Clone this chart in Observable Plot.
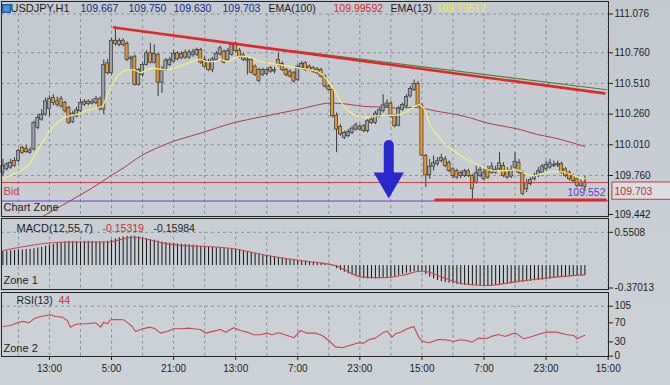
<!DOCTYPE html>
<html><head><meta charset="utf-8">
<script src="https://cdn.jsdelivr.net/npm/d3@7"></script>
<script src="https://cdn.jsdelivr.net/npm/@observablehq/plot@0.6"></script>
<style>
html,body{margin:0;padding:0;background:#c8ced4;}
#chart{position:relative;width:670px;height:385px;overflow:hidden;background:linear-gradient(#c3c9cf,#cdd2d7);font-family:"Liberation Sans",Arial,sans-serif;}
#chart svg{position:absolute;left:0;top:0;}
</style></head><body><div id="chart"></div>
<script>
// ---- data (hourly USDJPY candles, bar index 0..150) ----
const open = [109.783,109.810,109.824,109.878,109.878,109.986,109.977,109.945,109.972,110.148,
110.215,110.256,110.301,110.391,110.364,110.382,110.350,110.310,110.193,110.242,
110.283,110.337,110.361,110.345,110.350,110.382,110.296,110.674,110.593,110.858,
110.823,110.858,110.831,110.706,110.728,110.499,110.580,110.661,110.755,110.679,
110.742,110.517,110.620,110.661,110.688,110.755,110.715,110.760,110.720,110.739,
110.744,110.782,110.701,110.688,110.620,110.701,110.747,110.769,110.701,110.742,
110.831,110.777,110.701,110.696,110.701,110.647,110.620,110.580,110.588,110.634,
110.607,110.701,110.669,110.620,110.607,110.593,110.539,110.634,110.674,110.647,
110.634,110.625,110.620,110.566,110.485,110.458,110.247,110.156,110.067,110.080,
110.107,110.134,110.134,110.161,110.121,110.215,110.188,110.242,110.283,110.323,
110.345,110.242,110.166,110.296,110.323,110.404,110.458,110.507,110.328,109.918,
109.761,109.832,109.851,109.878,109.891,109.864,109.810,109.797,109.756,109.756,
109.794,109.756,109.702,109.756,109.729,109.810,109.783,109.783,109.810,109.837,
109.797,109.751,109.824,109.864,109.783,109.648,109.689,109.729,109.756,109.783,
109.810,109.824,109.837,109.842,109.851,109.810,109.783,109.756,109.729,109.675,
109.667];
const high = [109.891,109.864,109.891,109.905,109.972,109.999,110.004,109.986,110.202,110.256,
110.296,110.391,110.409,110.418,110.399,110.404,110.364,110.323,110.283,110.318,
110.377,110.377,110.377,110.382,110.404,110.399,110.701,110.706,110.876,110.971,
110.876,110.876,110.850,110.733,110.742,110.634,110.679,110.777,110.836,110.823,
110.755,110.647,110.715,110.723,110.777,110.769,110.769,110.782,110.782,110.787,
110.796,110.796,110.728,110.706,110.723,110.769,110.814,110.782,110.796,110.841,
110.850,110.796,110.755,110.728,110.715,110.661,110.634,110.634,110.634,110.647,
110.642,110.755,110.688,110.634,110.620,110.607,110.661,110.688,110.688,110.661,
110.647,110.639,110.634,110.580,110.499,110.472,110.269,110.175,110.121,110.134,
110.161,110.188,110.175,110.175,110.215,110.242,110.283,110.310,110.418,110.377,
110.364,110.256,110.323,110.350,110.418,110.485,110.539,110.526,110.345,109.932,
109.891,109.918,109.905,109.932,109.913,109.878,109.824,109.810,109.797,109.810,
109.810,109.770,109.837,109.837,109.824,109.837,109.864,109.837,109.945,109.864,
109.824,109.837,109.945,109.891,109.797,109.729,109.743,109.778,109.824,109.851,
109.878,109.891,109.878,109.878,109.869,109.824,109.797,109.770,109.743,109.724,
109.750];
const low = [109.756,109.797,109.810,109.824,109.864,109.932,109.940,109.932,109.959,110.134,
110.202,110.242,110.237,110.328,110.318,110.310,110.269,110.175,110.183,110.229,
110.269,110.323,110.328,110.334,110.337,110.283,110.256,110.580,110.580,110.814,
110.809,110.809,110.688,110.620,110.490,110.490,110.561,110.652,110.669,110.669,
110.404,110.431,110.607,110.647,110.679,110.696,110.701,110.706,110.706,110.723,
110.728,110.666,110.634,110.607,110.598,110.688,110.733,110.669,110.688,110.733,
110.760,110.715,110.688,110.580,110.588,110.566,110.517,110.566,110.571,110.593,
110.588,110.647,110.607,110.566,110.553,110.512,110.526,110.620,110.607,110.607,
110.593,110.580,110.553,110.472,110.445,110.229,109.945,110.080,110.053,110.067,
110.094,110.121,110.121,110.107,110.107,110.175,110.175,110.229,110.269,110.310,
110.229,110.148,110.156,110.283,110.310,110.391,110.445,110.318,109.913,109.662,
109.729,109.797,109.837,109.864,109.824,109.783,109.734,109.729,109.734,109.743,
109.743,109.567,109.689,109.743,109.716,109.729,109.770,109.770,109.797,109.743,
109.729,109.734,109.810,109.770,109.594,109.621,109.675,109.716,109.743,109.770,
109.797,109.810,109.824,109.824,109.770,109.743,109.716,109.702,109.662,109.662,
109.630];
const close = [109.837,109.851,109.864,109.837,109.959,109.945,109.950,109.964,110.188,110.229,
110.256,110.364,110.382,110.350,110.337,110.323,110.283,110.188,110.264,110.291,
110.350,110.361,110.342,110.361,110.382,110.301,110.661,110.593,110.858,110.831,
110.858,110.823,110.701,110.720,110.499,110.620,110.661,110.755,110.679,110.750,
110.517,110.615,110.696,110.701,110.750,110.706,110.750,110.720,110.763,110.763,
110.782,110.679,110.647,110.620,110.706,110.750,110.796,110.679,110.774,110.823,
110.774,110.728,110.739,110.706,110.598,110.580,110.531,110.620,110.620,110.607,
110.620,110.661,110.620,110.580,110.566,110.526,110.647,110.669,110.620,110.620,
110.607,110.593,110.566,110.485,110.458,110.242,110.134,110.094,110.107,110.115,
110.142,110.169,110.156,110.121,110.202,110.188,110.264,110.291,110.331,110.347,
110.242,110.161,110.304,110.334,110.399,110.466,110.507,110.328,109.923,109.761,
109.832,109.859,109.875,109.902,109.837,109.797,109.756,109.743,109.780,109.794,
109.756,109.648,109.778,109.805,109.778,109.743,109.832,109.807,109.859,109.756,
109.743,109.805,109.872,109.783,109.608,109.697,109.724,109.753,109.794,109.832,
109.845,109.859,109.848,109.853,109.783,109.756,109.729,109.716,109.675,109.697,
109.703];

// EMA(13) and EMA(100) read at sampled bars
const ema13Bar = [0,2,4.5,7.1,8.8,10.6,12.3,14,15.7,17.4,19.1,21.7,24.3,25.6,26.9,28.6,30.3,32,33.7,35.5,37.2,38.9,40.6,42.3,44.1,45.8,47.5,49.2,50.9,52.6,54.4,56.1,57.8,59.5,61.2,63,66.4,69,71.5,74.1,76.7,79.3,81.9,83.6,85.3,87,88.7,90.4,92.2,93.9,95.6,97.3,99,100.8,102.5,104.2,105.9,107.2,108.9,110.2,111.9,113.6,116.2,118.8,121.3,123.9,126.5,129.1,131.7,133.4,135.1,136.8,138.5,141.1,143.7,146.3,148.4,150];
const ema13 = [109.734,109.761,109.797,109.864,109.959,110.053,110.134,110.188,110.229,110.247,110.256,110.291,110.310,110.323,110.418,110.526,110.593,110.620,110.620,110.598,110.620,110.634,110.625,110.620,110.634,110.652,110.674,110.693,110.706,110.688,110.688,110.706,110.688,110.715,110.733,110.728,110.688,110.674,110.661,110.647,110.634,110.620,110.593,110.539,110.458,110.364,110.296,110.256,110.237,110.234,110.242,110.247,110.250,110.250,110.256,110.283,110.318,110.337,110.283,110.161,110.094,110.026,109.959,109.904,109.864,109.824,109.797,109.797,109.805,109.797,109.770,109.756,109.770,109.791,109.791,109.770,109.743,109.735];
const ema100Bar = [8,10.6,16.6,21.7,25.2,27.7,31.2,35.5,39.8,44.1,48.3,52.6,57.8,63,67.3,71.5,75.8,80.1,84.4,88.7,93,97.3,101.6,105.9,107.6,111.9,116.2,120.5,124.8,129.1,133.4,137.7,142,146.3,150];
const ema100 = [109.38,109.432,109.540,109.634,109.702,109.756,109.824,109.918,109.985,110.040,110.080,110.121,110.175,110.215,110.242,110.269,110.296,110.328,110.350,110.342,110.323,110.318,110.310,110.315,110.310,110.283,110.261,110.229,110.188,110.161,110.134,110.094,110.067,110.031,109.996];

// drawn objects
const trendBar = [28.6, 155.05];
const trendPrice = [110.966, 110.429];
const greenBar = [75, 155.75];
const greenPrice = [110.777, 110.459];
const supportBar = [111.5, 155.3];
const supportPrice = [109.561, 109.561];
const bidPrice = 109.703;
const zonePrice = 109.552;
const arrowBar = 99.45;
const arrowTop = 110.004;
const arrowBottom = 109.736;
const arrowHead = 109.714;

// MACD(12,55,7) histogram per bar, signal at sampled bars
const macd = [0.235,0.24,0.245,0.25,0.255,0.26,0.265,0.27,0.278,0.29,
0.305,0.32,0.335,0.35,0.365,0.38,0.39,0.395,0.397,0.395,
0.393,0.395,0.396,0.394,0.392,0.39,0.39,0.40,0.42,0.44,
0.46,0.475,0.485,0.487,0.485,0.475,0.46,0.445,0.43,0.42,
0.405,0.39,0.38,0.372,0.366,0.36,0.355,0.35,0.344,0.338,
0.33,0.322,0.315,0.308,0.30,0.295,0.29,0.285,0.28,0.278,
0.27,0.26,0.25,0.235,0.22,0.205,0.19,0.178,0.167,0.155,
0.145,0.135,0.125,0.115,0.105,0.095,0.088,0.084,0.075,0.066,
0.056,0.048,0.04,0.03,0.015,-0.015,-0.05,-0.081,-0.11,-0.136,
-0.16,-0.18,-0.2,-0.215,-0.22,-0.22,-0.22,-0.215,-0.21,-0.21,
-0.2,-0.185,-0.164,-0.145,-0.125,-0.11,-0.098,-0.1,-0.11,-0.15,
-0.19,-0.22,-0.247,-0.265,-0.28,-0.29,-0.3,-0.31,-0.32,-0.325,
-0.33,-0.33,-0.33,-0.33,-0.33,-0.33,-0.328,-0.325,-0.32,-0.315,
-0.31,-0.3,-0.29,-0.28,-0.275,-0.265,-0.26,-0.25,-0.247,-0.24,
-0.23,-0.22,-0.21,-0.2,-0.195,-0.19,-0.185,-0.18,-0.175,-0.17,
-0.16];
const signalBar = [0,16.6,26.9,33.7,42.3,59.5,68.1,76.7,81.9,85.7,92.6,98.6,102.9,108.1,113.2,118.4,124.4,133,145.9,150];
const signal = [0.25,0.39,0.39,0.47,0.36,0.28,0.167,0.084,0.046,0.0,-0.19,-0.20,-0.16,-0.09,-0.19,-0.30,-0.33,-0.26,-0.17,-0.153];

// RSI(13) at sampled bars
const rsiBar = [0,2,4.1,5.4,6.7,8,9.7,12.3,13.6,15.3,16.6,17.4,18.7,20,21.7,23.9,25.2,26,26.9,27.7,29,31.2,32.5,33.3,34.2,35.5,36.8,38,39.3,40.6,42.3,44.1,46.2,47.9,49.2,50.9,52.2,54.4,56.1,57.4,59.5,61.2,63,64.7,66.4,68.1,69.4,71.1,73.3,75,76.7,78.4,80.6,82.3,84,85.7,87.4,90,91.7,93,94.3,96,98.2,99,100.3,101.2,102.5,104.2,105.9,107.2,108,109.8,112.3,114.1,116.2,117.9,119.6,120.9,122.6,124.4,126.1,127.8,129.5,131.7,132.5,134.2,136.4,138.5,140.3,142.8,145,147.1,148,148.8,150];
const rsi = [62.4,64.5,71.5,72.9,70.1,78.5,83.4,86.9,83.4,82,75,61,66.6,68,68,70.1,61,71.5,68,76.4,77.1,76.4,68,62.4,51.9,56.1,58.9,61,57.5,48.4,51.9,57.5,57.5,58.9,57.5,56.1,48.4,52.6,56.1,50.5,59.6,54,50.5,44.9,44.9,48.4,44.9,49.1,43.5,38.6,54,48.4,48.4,43.5,33,19.5,17.6,23.9,28.1,27.4,34.4,37.9,50.5,52.6,40,47,50.5,57.5,62.4,40,31.6,28.1,35.1,34.4,30.9,34.4,33,29.5,37.9,36.5,42.1,45.6,41.4,48.4,47,36.5,41.4,47,50.5,50.5,45.6,43.5,36.5,40,44];

// axes
const priceTicks = [111.076,110.760,110.510,110.260,110.010,109.760,109.442];
const macdTicks = [0.5508,-0.37013];
const rsiTicks = [105,70,30,0];
const gridBars = [4,12,20,28,36,44,52,60,68,76,84,92,100,108,116,124,132,140,148,156];
const timeBars = [12,28,44,60,76,92,108,124,140,156];
const timeLabels = ["13:00","5:00","21:00","13:00","7:00","23:00","15:00","7:00","23:00","15:00"];

// ---- styling ----
const GRID = "#8794a3", FRAME = "#262626", TXT = "#1e1e1e", DASH = "3,3";
const X = {domain: [0, 150], range: [2.4, 584.4], label: null};
const XH = {...X, axis: null};
const style = {background: "transparent", overflow: "visible", fontFamily: "Liberation Sans, Arial, sans-serif", fontSize: "10px", color: TXT};
const pts = (bars, vals) => bars.map((b, k) => ({i: b, v: vals[k]}));
const candles = open.map((o, i) => ({i, open: o, high: high[i], low: low[i], close: close[i]}));
const label = (text, dx, dy, fill, size, anchor = "top-left", ta = "start") =>
  Plot.text([text], {frameAnchor: anchor, dx, dy, fill, fontSize: size, textAnchor: ta, lineAnchor: "middle"});
const downTriangle = {draw(ctx, size) {
  const y = Math.sqrt(size / (3 * Math.sqrt(3)));
  ctx.moveTo(0, 2 * y); ctx.lineTo(-Math.sqrt(3) * y, -y); ctx.lineTo(Math.sqrt(3) * y, -y); ctx.closePath();
}};

const main = Plot.plot({
  width: 670, height: 385, marginLeft: 1, marginRight: 62, marginTop: 1, marginBottom: 169,
  x: XH, y: {domain: [109.442, 111.076], range: [214, 13.5], label: null}, style,
  marks: [
    Plot.ruleY(priceTicks.slice(0, -1), {stroke: GRID, strokeDasharray: DASH}),
    Plot.ruleX(gridBars, {y1: 109.442, y2: 111.076, stroke: GRID, strokeDasharray: DASH}),
    Plot.line(pts(ema100Bar, ema100), {x: "i", y: "v", stroke: "#a8403f", strokeWidth: 1, curve: "monotone-x", clip: true}),
    Plot.ruleX(candles, {x: "i", y1: "low", y2: "high", stroke: "#383838", strokeWidth: 1}),
    Plot.rect(candles, {x1: d => d.i - 0.4, x2: d => d.i + 0.4, y1: "open", y2: "close",
      fill: d => d.close >= d.open ? "#9aa1a8" : "#e69a2e", stroke: "#353535", strokeWidth: 0.7}),
    Plot.line(pts(ema13Bar, ema13), {x: "i", y: "v", stroke: "#f2ee78", strokeWidth: 1.3, curve: "monotone-x"}),
    Plot.line(pts(greenBar, greenPrice), {x: "i", y: "v", stroke: "#3f8a3a", strokeWidth: 1.1}),
    Plot.line(pts(trendBar, trendPrice), {x: "i", y: "v", stroke: "#e0282a", strokeWidth: 2.6}),
    Plot.ruleY([bidPrice], {stroke: "#cc4040", strokeWidth: 1}),
    Plot.ruleY([zonePrice], {stroke: "#7a3cc8", strokeWidth: 1}),
    Plot.line(pts(supportBar, supportPrice), {x: "i", y: "v", stroke: "#e0282a", strokeWidth: 2.6}),
    Plot.ruleX([arrowBar], {y1: arrowTop, y2: arrowBottom, stroke: "#2828cc", strokeWidth: 10, strokeLinecap: "round"}),
    Plot.dot([arrowBar], {x: d => d, y: arrowHead, symbol: downTriangle, r: 11.2, fill: "#2828cc", stroke: "none"}),
    Plot.text([zonePrice], {y: d => d, frameAnchor: "right", dx: -3, dy: -8, textAnchor: "end", text: d => d.toFixed(3), fill: "#6a3cc0", fontSize: 10.5}),
    Plot.rect([bidPrice], {x1: () => 157.1, x2: () => 174, y1: d => d, y2: d => d - 0.141, fill: "#dadde2", stroke: "#c83c3c", strokeWidth: 1}),
    Plot.text([bidPrice], {y: d => d, frameAnchor: "right", dx: 6, dy: 9, textAnchor: "start", text: d => d.toFixed(3), fill: "#c42e2e", fontSize: 10.5}),
    Plot.axisY(priceTicks, {anchor: "right", tickSize: 4, tickPadding: 2, tickFormat: d => d.toFixed(3), label: null, fill: TXT, stroke: TXT}),
    Plot.frame({stroke: FRAME}),
    Plot.dot([0], {frameAnchor: "top-left", dx: 5, dy: 7, symbol: "square", r: 4.3, fill: "#4d93d8", stroke: "#2c5f99"}),
    label("USDJPY,H1", 9, 7, TXT, 11),
    label("109.667", 79, 7, "#1c2a8a", 10.5),
    label("109.750", 127, 7, "#1c2a8a", 10.5),
    label("109.630", 172, 7, "#1c2a8a", 10.5),
    label("109.703", 221, 7, "#1c2a8a", 10.5),
    label("EMA(100)", 267, 7, TXT, 10.5),
    label("109.99592", 332, 7, "#c83030", 10.5),
    label("EMA(13)", 389, 7, TXT, 10.5),
    label("109.73512", 435, 7, "#eeee3a", 10.5),
    label("Bid", 2, 190, "#c83c3c", 11),
    label("Chart Zone", 2, 206, TXT, 11)
  ]
});

const macdPanel = Plot.plot({
  width: 670, height: 385, marginLeft: 1, marginRight: 62, marginTop: 218, marginBottom: 96,
  x: XH, y: {domain: [-0.37013, 0.5508], range: [287.5, 231.8], label: null}, style,
  marks: [
    Plot.ruleY([0.5508], {stroke: GRID, strokeDasharray: DASH}),
    Plot.ruleX(gridBars, {y1: -0.37013, y2: 0.5508, stroke: GRID, strokeDasharray: DASH}),
    Plot.ruleX(macd, {x: (d, i) => i, y1: 0, y2: d => d, stroke: "#141414", strokeWidth: 1}),
    Plot.line(pts(signalBar, signal), {x: "i", y: "v", stroke: "#c84848", strokeWidth: 1.1, curve: "monotone-x"}),
    Plot.axisY(macdTicks, {anchor: "right", tickSize: 4, tickPadding: 2, tickFormat: d => String(d), label: null, fill: TXT, stroke: TXT}),
    Plot.frame({stroke: FRAME}),
    label("MACD(12,55,7)", 15, 10, TXT, 11),
    label("-0.15319", 101, 10, "#c83030", 10.5),
    label("-0.15984", 152, 10, TXT, 10.5),
    label("Zone 1", 2, 62, TXT, 11)
  ]
});

const rsiPanel = Plot.plot({
  width: 670, height: 385, marginLeft: 1, marginRight: 62, marginTop: 292, marginBottom: 29,
  x: X, y: {domain: [0, 105], range: [355.7, 305.7], label: null}, style,
  marks: [
    Plot.ruleY([105], {stroke: GRID, strokeDasharray: DASH}),
    Plot.ruleX(gridBars, {y1: 0, y2: 105, stroke: GRID, strokeDasharray: DASH}),
    Plot.line(pts(rsiBar, rsi), {x: "i", y: "v", stroke: "#c84848", strokeWidth: 1.1}),
    Plot.axisY(rsiTicks, {anchor: "right", tickSize: 4, tickPadding: 2, tickFormat: d => String(d), label: null, fill: TXT, stroke: TXT}),
    Plot.axisX(timeBars, {anchor: "bottom", tickSize: 4, tickPadding: 4, tickFormat: d => timeLabels[timeBars.indexOf(d)], label: null, fill: TXT, stroke: TXT}),
    Plot.frame({stroke: FRAME}),
    label("RSI(13)", 15, 8, TXT, 10.5),
    label("44", 57, 8, "#c83030", 10.5),
    label("Zone 2", 2, 56, TXT, 11)
  ]
});

const host = document.getElementById("chart");
host.append(main, macdPanel, rsiPanel);
</script>
</body></html>
